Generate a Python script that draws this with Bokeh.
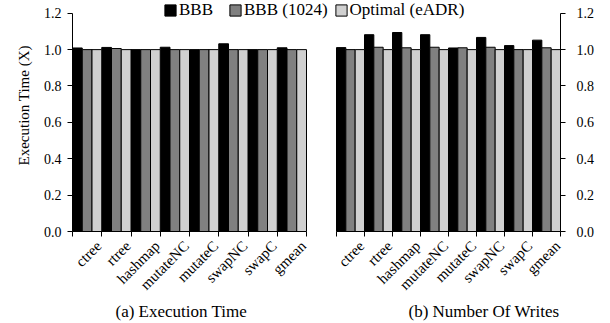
import numpy as np
from bokeh.plotting import figure
from bokeh.layouts import row
from bokeh.models import (ColumnDataSource, FixedTicker, PrintfTickFormatter,
                          Range1d, Legend, LegendItem, Title)
from bokeh.transform import dodge
from bokeh.embed import file_html
from bokeh.resources import INLINE

categories = ["ctree", "rtree", "hashmap", "mutateNC", "mutateC", "swapNC", "swapC", "gmean"]
series_names = ["BBB", "BBB (1024)", "Optimal (eADR)"]

# (a) Execution Time
exec_bbb = [1.009, 1.012, 1.0, 1.013, 1.0, 1.032, 1.0, 1.01]
exec_bbb1024 = [1.0, 1.006, 1.0, 1.0, 1.0, 1.0, 1.0, 1.0]
exec_opt = [1.0, 1.0, 1.0, 1.0, 1.0, 1.0, 1.0, 1.0]

# (b) Number Of Writes
wr_bbb = [1.011, 1.082, 1.094, 1.082, 1.009, 1.067, 1.022, 1.052]
wr_bbb1024 = [1.0, 1.013, 1.01, 1.013, 1.01, 1.013, 1.0, 1.01]
wr_opt = [1.0, 1.0, 1.0, 1.0, 1.0, 1.0, 1.0, 1.0]

y_ticks = [0.0, 0.2, 0.4, 0.6, 0.8, 1.0, 1.2]
colors = ["#000000", "#808080", "#d0d0d0"]
FONT = "Liberation Serif"

n = len(categories)
centers = [i + 0.5 for i in range(n)]
bounds = [float(i) for i in range(n + 1)]
LABEL_SHIFT = 0.4
label_pos = [c + LABEL_SHIFT for c in centers]


def make_fig(vals, subtitle, side, width, bl, br, xr, sub_offset):
    src = ColumnDataSource(dict(x=centers, a=vals[0], b=vals[1], c=vals[2]))
    p = figure(width=width, height=323, output_backend="svg", toolbar_location=None,
               x_range=Range1d(*xr), y_range=Range1d(0, 1.27),
               y_axis_location=side,
               min_border_left=bl, min_border_right=br,
               min_border_top=0, min_border_bottom=92)
    p.outline_line_color = None
    p.grid.visible = False
    rs = []
    for col, off, color in zip(["a", "b", "c"], [-1 / 3, 0, 1 / 3], colors):
        r = p.vbar(x=dodge("x", off), top=col, width=1 / 3, bottom=0,
                   source=src, fill_color=color, line_color="black", line_width=1)
        rs.append(r)
    # x axis
    xa = p.xaxis[0]
    xa.bounds = (0, n)
    xa.ticker = FixedTicker(ticks=label_pos, minor_ticks=bounds)
    xa.major_label_overrides = {c: lab for c, lab in zip(label_pos, categories)}
    xa.major_tick_in = 0
    xa.major_tick_out = 0
    xa.minor_tick_in = 0
    xa.minor_tick_out = 5
    xa.minor_tick_line_color = "black"
    xa.axis_line_color = "black"
    xa.major_label_orientation = np.pi / 4
    xa.major_label_text_font = FONT
    xa.major_label_text_font_size = "15px"
    xa.major_label_text_color = "black"
    xa.major_label_standoff = 7
    # subtitle
    t = Title(text=subtitle, align="left", offset=sub_offset, standoff=-4,
              text_font=FONT, text_font_size="17px", text_font_style="normal",
              text_color="black")
    p.add_layout(t, "below")
    # y axis
    ya = p.yaxis[0]
    ya.ticker = FixedTicker(ticks=y_ticks)
    ya.bounds = (0, 1.2)
    ya.formatter = PrintfTickFormatter(format="%.1f")
    ya.major_tick_in = 0
    ya.major_tick_out = 5
    ya.minor_tick_line_color = None
    ya.axis_line_color = "black"
    ya.major_tick_line_color = "black"
    ya.major_label_text_font = FONT
    ya.major_label_text_font_size = "14px"
    ya.major_label_text_color = "black"
    ya.major_label_standoff = 6 if side == "left" else 11
    return p, rs


p1, rs1 = make_fig([exec_bbb, exec_bbb1024, exec_opt], "(a) Execution Time",
                   "left", 330, 72, 0, (0, n * 258 / 234), 43)
ytitle = Title(text="Execution Time (X)", align="left", offset=66, standoff=18,
               text_font=FONT, text_font_size="15px", text_font_style="normal",
               text_color="black")
p1.add_layout(ytitle, "left")

p2, rs2 = make_fig([wr_bbb, wr_bbb1024, wr_opt], "(b) Number Of Writes",
                   "right", 280, 0, 50, (-6 / 28, n), 78)


def style_legend(lg):
    lg.orientation = "horizontal"
    lg.background_fill_alpha = 0
    lg.border_line_color = None
    lg.padding = 0
    lg.margin = 0
    lg.spacing = 15
    lg.glyph_width = 14
    lg.glyph_height = 14
    lg.label_standoff = 2
    lg.label_height = 16
    lg.label_width = 10
    lg.label_text_font = FONT
    lg.label_text_font_size = "17px"
    lg.label_text_color = "black"


lg1 = Legend(items=[LegendItem(label=series_names[0], renderers=[rs1[0]]),
                    LegendItem(label=series_names[1], renderers=[rs1[1]])],
             location=(91, 211))
style_legend(lg1)
p1.add_layout(lg1)

lg2 = Legend(items=[LegendItem(label=series_names[2], renderers=[rs2[2]])],
             location=(3.6, 211))
style_legend(lg2)
p2.add_layout(lg2)

layout = row(p1, p2)
open("out.html", "w").write(file_html(layout, INLINE))
